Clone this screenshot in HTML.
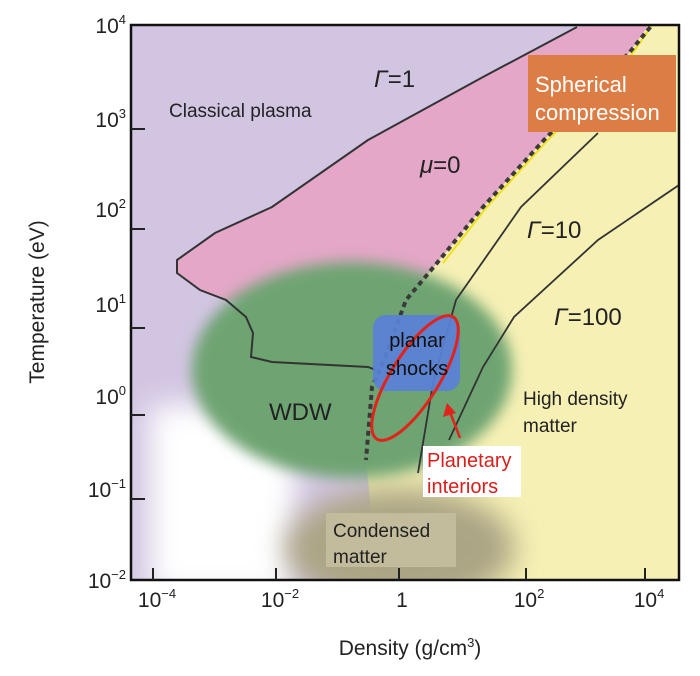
<!DOCTYPE html>
<html><head><meta charset="utf-8"><style>
body{margin:0;background:#fff;}
svg text{font-family:"Liberation Sans",sans-serif;}
</style></head><body>
<svg width="700" height="671" viewBox="0 0 700 671" xmlns="http://www.w3.org/2000/svg">
<defs>
<filter id="b8" x="-30%" y="-30%" width="160%" height="160%"><feGaussianBlur stdDeviation="7"/></filter>
<filter id="b14" x="-40%" y="-40%" width="180%" height="180%"><feGaussianBlur stdDeviation="14"/></filter>
<clipPath id="c"><rect x="131" y="25" width="548" height="555"/></clipPath>
</defs>
<g clip-path="url(#c)">
<rect x="131" y="25" width="548" height="555" fill="#d2c5e2"/>
<!-- white bottom-left -->
<rect x="150" y="405" width="145" height="190" fill="#ffffff" filter="url(#b14)"/>
<!-- yellow right -->
<path d="M652,20 L629,53 L544,140 L483,207 L437,263 L406,300 L384,360 L366,460 L380,600 L700,600 L700,20 Z" fill="#f6f0b4"/>
<rect x="470" y="380" width="230" height="220" fill="#f6f0b4"/>
<!-- pink -->
<path d="M577,27 L483,77 L368,140 L272,207 L215,233 L177,260 L177,273 L200,290 L226,300 L300,300 L406,300 L437,263 L483,207 L544,140 L629,53 L652,20 Z" fill="#e4a7c7"/>
<!-- condensed matter blob -->
<ellipse cx="400" cy="548" rx="115" ry="60" fill="#aca585" filter="url(#b14)"/>
<!-- green blob -->
<ellipse cx="352" cy="370" rx="160" ry="108" fill="#6ea472" filter="url(#b8)"/>
<rect x="326" y="513" width="130" height="54" fill="#c3bc9c"/>
<!-- lines -->
<polyline points="577,27 483,77 368,140 272,207 215,233 177,260 177,273 200,290 226,300 246,317 253,333 251,357 272,362 368,367 376,370" fill="none" stroke="#333" stroke-width="2"/>
<polyline points="652,20 629,53 544,140 483,207 440,262" fill="none" stroke="#f0e020" stroke-width="2" transform="translate(3,1)"/>
<polyline points="656,20 629,53 544,140 483,207 437,263 406,300 384,360 372,387 366,460" fill="none" stroke="#3a3a3a" stroke-width="4" stroke-dasharray="5,4"/>
<polyline points="598,133 521,207 456,300 433,383 418,473" fill="none" stroke="#333" stroke-width="1.8"/>
<polyline points="679,185 598,240 514,317 483,367 449,440" fill="none" stroke="#333" stroke-width="1.8"/>
<!-- planar shocks -->
<rect x="373" y="315" width="87" height="76" rx="13" fill="#5a80d8" opacity="0.92"/>
<ellipse cx="415" cy="378" rx="72" ry="24" transform="rotate(-58 415 378)" fill="none" stroke="#e0241c" stroke-width="3"/>
<line x1="460" y1="438" x2="450" y2="412" stroke="#e0241c" stroke-width="2.5"/>
<polygon points="447,403 443,417 456,413" fill="#e0241c"/>
<!-- boxes -->
<rect x="528" y="55" width="148" height="77" fill="#dc7d45"/>
<rect x="423" y="446" width="98" height="51" fill="#fff"/>
</g>
<rect x="131" y="25" width="548" height="555" fill="none" stroke="#111" stroke-width="2.5"/>
<!-- ticks -->
<g stroke="#222" stroke-width="2">
<line x1="131" y1="129" x2="145" y2="129"/><line x1="131" y1="229" x2="145" y2="229"/>
<line x1="131" y1="328" x2="145" y2="328"/><line x1="131" y1="415" x2="145" y2="415"/>
<line x1="131" y1="499" x2="145" y2="499"/>
<line x1="153" y1="580" x2="153" y2="568"/><line x1="276" y1="580" x2="276" y2="568"/>
<line x1="399" y1="580" x2="399" y2="568"/><line x1="526" y1="580" x2="526" y2="568"/>
<line x1="645" y1="580" x2="645" y2="568"/>
</g>
<!-- labels in plot -->
<text x="169" y="117" font-size="19" fill="#222">Classical plasma</text>
<text x="374" y="87" font-size="24" fill="#222"><tspan font-style="italic">Γ</tspan>=1</text>
<text x="420" y="173" font-size="24" fill="#222"><tspan font-style="italic">μ</tspan>=0</text>
<text x="527" y="238" font-size="24" fill="#222"><tspan font-style="italic">Γ</tspan>=10</text>
<text x="554" y="325" font-size="24" fill="#222"><tspan font-style="italic">Γ</tspan>=100</text>
<text x="269" y="420" font-size="24" fill="#222">WDW</text>
<text x="417" y="347" font-size="20" fill="#111" text-anchor="middle">planar</text>
<text x="417" y="375" font-size="20" fill="#111" text-anchor="middle">shocks</text>
<text x="523" y="405" font-size="19" fill="#222">High density</text>
<text x="523" y="432" font-size="19" fill="#222">matter</text>
<text x="427" y="467" font-size="20" fill="#d6201b">Planetary</text>
<text x="427" y="493" font-size="20" fill="#d6201b">interiors</text>
<text x="535" y="92" font-size="22" fill="#fff">Spherical</text>
<text x="535" y="120" font-size="22" fill="#fff">compression</text>
<text x="333" y="537" font-size="19" fill="#222">Condensed</text>
<text x="333" y="563" font-size="19" fill="#222">matter</text>
<!-- y tick labels -->
<g font-size="21" fill="#222" text-anchor="end">
<text x="126" y="33">10<tspan font-size="13" dy="-9">4</tspan></text>
<text x="126" y="127">10<tspan font-size="13" dy="-9">3</tspan></text>
<text x="126" y="217">10<tspan font-size="13" dy="-9">2</tspan></text>
<text x="126" y="312">10<tspan font-size="13" dy="-9">1</tspan></text>
<text x="126" y="404">10<tspan font-size="13" dy="-9">0</tspan></text>
<text x="126" y="497">10<tspan font-size="13" dy="-9">−1</tspan></text>
<text x="126" y="588">10<tspan font-size="13" dy="-9">−2</tspan></text>
</g>
<g font-size="21" fill="#222" text-anchor="middle">
<text x="157" y="607">10<tspan font-size="13" dy="-9">−4</tspan></text>
<text x="280" y="607">10<tspan font-size="13" dy="-9">−2</tspan></text>
<text x="402" y="607">1</text>
<text x="529" y="607">10<tspan font-size="13" dy="-9">2</tspan></text>
<text x="649" y="607">10<tspan font-size="13" dy="-9">4</tspan></text>
</g>
<text x="410" y="655" font-size="21" fill="#222" text-anchor="middle">Density (g/cm<tspan font-size="13" dy="-8">3</tspan><tspan dy="8">)</tspan></text>
<text transform="translate(44,302) rotate(-90)" font-size="21" fill="#222" text-anchor="middle">Temperature (eV)</text>
</svg>
</body></html>
